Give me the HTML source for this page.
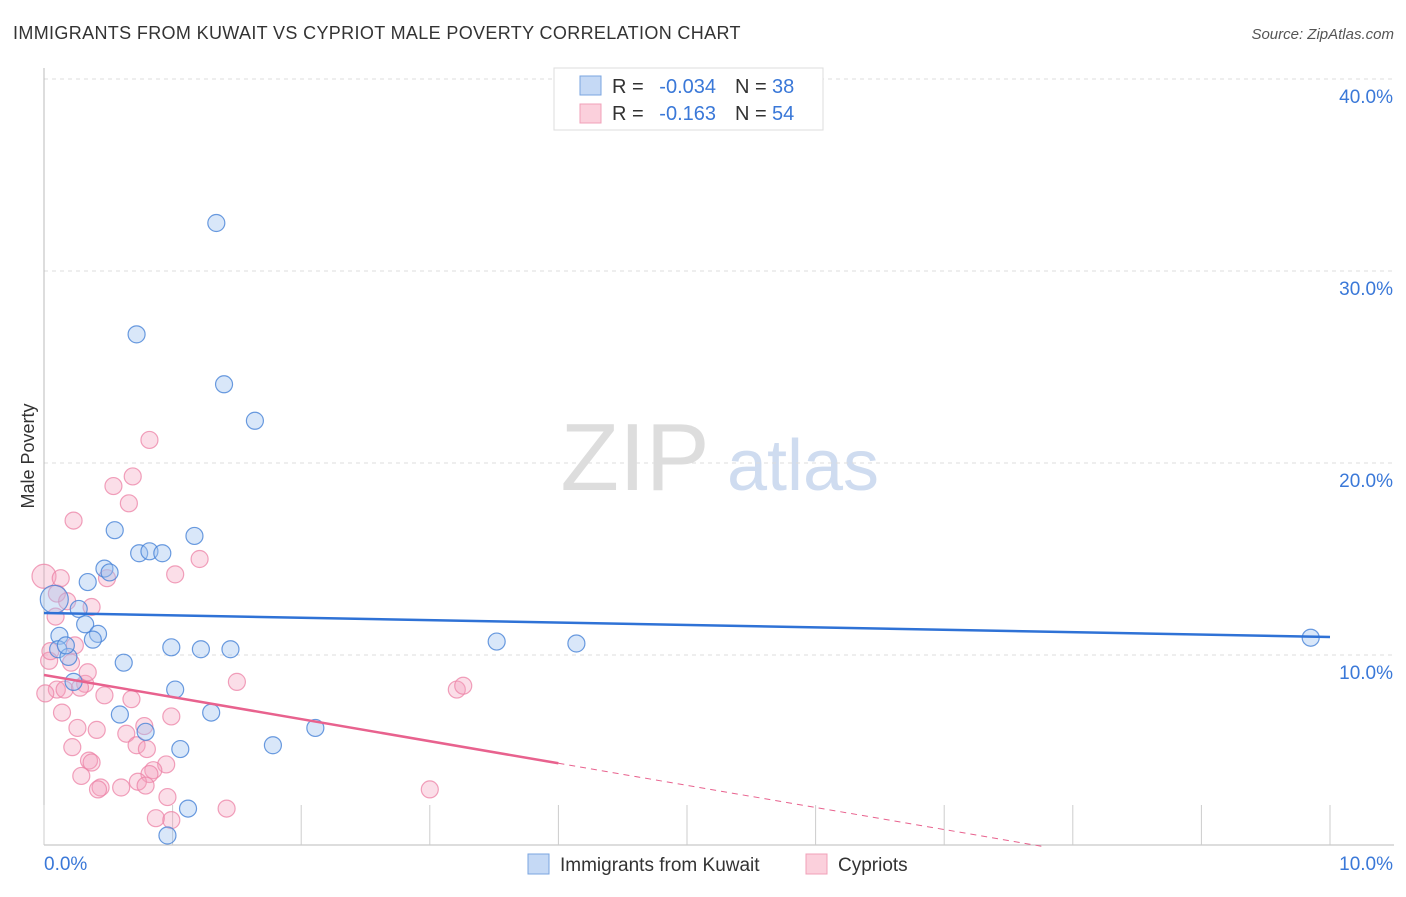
<!DOCTYPE html>
<html><head><meta charset="utf-8"><style>
body{margin:0;background:#fff;font-family:"Liberation Sans",sans-serif;}
svg text{font-family:"Liberation Sans",sans-serif;}
</style></head><body>
<svg id="chart" width="1406" height="892" xmlns="http://www.w3.org/2000/svg">
<text x="13" y="39" font-size="18" fill="#333" letter-spacing="0.35">IMMIGRANTS FROM KUWAIT VS CYPRIOT MALE POVERTY CORRELATION CHART</text>
<text x="1394" y="39" font-size="15" fill="#555" font-style="italic" text-anchor="end">Source: ZipAtlas.com</text>
<text x="34" y="456" font-size="18" fill="#333" transform="rotate(-90 34 456)" text-anchor="middle">Male Poverty</text>
<g><text x="635" y="490" font-size="96" fill="#ddd" font-family="Liberation Serif" text-anchor="middle">ZIP</text><text x="803" y="490" font-size="72" fill="#cfdcf0" text-anchor="middle">atlas</text></g>
<g id="grid"></g><g id="axes"></g><g id="pts"></g><g id="trends"></g>
<g>
<rect x="554" y="68" width="269" height="62" fill="#fff" stroke="#ddd"/>
<rect x="580" y="76" width="21" height="19" fill="#c5d9f5" stroke="#7aa5e0"/>
<rect x="580" y="104" width="21" height="19" fill="#fbd0dc" stroke="#f0a0b8"/>
<text x="612" y="93" font-size="20" fill="#333">R =</text>
<text x="716" y="93" font-size="20" fill="#3a78d8" text-anchor="end">-0.034</text>
<text x="735" y="93" font-size="20" fill="#333">N =</text>
<text x="772" y="93" font-size="20" fill="#3a78d8">38</text>
<text x="612" y="120" font-size="20" fill="#333">R =</text>
<text x="716" y="120" font-size="20" fill="#3a78d8" text-anchor="end">-0.163</text>
<text x="735" y="120" font-size="20" fill="#333">N =</text>
<text x="772" y="120" font-size="20" fill="#3a78d8">54</text>
</g>
<g>
<rect x="528" y="854" width="21" height="20" fill="#c5d9f5" stroke="#7aa5e0"/>
<text x="560" y="871" font-size="19" fill="#333">Immigrants from Kuwait</text>
<rect x="806" y="854" width="21" height="20" fill="#fbd0dc" stroke="#f0a0b8"/>
<text x="838" y="871" font-size="19" fill="#333">Cypriots</text>
</g>
</svg>
<script>
const yTicks=[10,20,30,40];
const xTickLabels=["0.0%","10.0%"];
const blueX=[1.34,0.72,1.40,1.64,0.55,1.17,0.74,0.82,0.92,0.47,0.51,0.34,0.08,0.27,0.32,0.42,0.12,0.38,0.11,0.19,0.62,0.99,1.22,1.45,3.52,4.14,9.85,0.23,1.02,0.59,1.30,0.79,1.06,1.78,2.11,1.12,0.96,0.17];
const blueY=[32.5,26.7,24.1,22.2,16.5,16.2,15.3,15.4,15.3,14.5,14.3,13.8,12.9,12.4,11.6,11.1,11.0,10.8,10.3,9.9,9.6,10.4,10.3,10.3,10.7,10.6,10.9,8.6,8.2,6.9,7.0,6.0,5.1,5.3,6.2,2.0,0.6,10.5];
const pinkX=[0.82,0.69,0.54,0.66,0.23,1.21,1.02,0.49,0.0,0.10,0.37,0.18,0.09,0.24,0.04,0.21,0.32,0.34,0.10,0.16,0.47,0.68,1.50,3.21,3.26,0.14,0.26,0.41,0.78,0.99,0.64,0.22,0.72,0.80,0.35,0.37,0.95,0.85,0.82,0.29,0.73,0.44,0.42,0.60,0.79,0.96,3.0,1.42,0.87,0.99,0.13,0.01,0.05,0.28];
const pinkY=[21.2,19.3,18.8,17.9,17.0,15.0,14.2,14.0,14.1,13.2,12.5,12.8,12.0,10.5,9.7,9.6,8.5,9.1,8.2,8.2,7.9,7.7,8.6,8.2,8.4,7.0,6.2,6.1,6.3,6.8,5.9,5.2,5.3,5.1,4.5,4.4,4.3,4.0,3.8,3.7,3.4,3.1,3.0,3.1,3.2,2.6,3.0,2.0,1.5,1.4,14.0,8.0,10.2,8.3];
const blueTrend=[12.19,10.94];
const pinkTrend=[8.96,-1.15];
const X=v=>44+v*128.6, Y=v=>847-v*19.2;
const NS="http://www.w3.org/2000/svg";
function mk(tag,attrs,parent){const e=document.createElementNS(NS,tag);for(const k in attrs)e.setAttribute(k,attrs[k]);parent.appendChild(e);return e;}
const grid=document.getElementById('grid'),axes=document.getElementById('axes'),pts=document.getElementById('pts'),tr=document.getElementById('trends');
yTicks.forEach(t=>{const l=mk('line',{x1:44,x2:1394,y1:Y(t),y2:Y(t),stroke:'#ddd','stroke-dasharray':'4,4'},grid);


const tx=mk('text',{x:1393,y:Y(t)+24,'font-size':19,fill:'#3a78d8','text-anchor':'end'},axes);tx.textContent=t.toFixed(1)+'%';

});
let a=mk('line',{x1:44,x2:44,y1:68,y2:845,stroke:'#bbb'},axes);


a=mk('line',{x1:44,x2:1394,y1:845,y2:845,stroke:'#bbb'},axes);


for(let i=0;i<=10;i++){const t=mk('line',{x1:X(i),x2:X(i),y1:805,y2:845,stroke:'#ccc'},axes);

}
[[0,44,'start'],[10,1393,'end']].forEach((d,i)=>{const t=mk('text',{x:d[1],y:870,'font-size':19,fill:'#3a78d8','text-anchor':d[2]},axes);t.textContent=xTickLabels[i];

});
pinkX.forEach((x,i)=>{const c=mk('circle',{cx:X(x),cy:Y(pinkY[i]),r:(x<0.005?12:8.5),fill:'rgba(244,160,188,0.35)',stroke:'rgba(236,130,165,0.75)','stroke-width':1.2},pts);

});
blueX.forEach((x,i)=>{const c=mk('circle',{cx:X(x),cy:Y(blueY[i]),r:(x<0.1?14:8.5),fill:'rgba(160,195,240,0.4)',stroke:'rgba(70,130,215,0.8)','stroke-width':1.2},pts);

});
let l=mk('line',{x1:X(0),y1:Y(blueTrend[0]),x2:X(10),y2:Y(blueTrend[1]),stroke:'#2f72d6','stroke-width':2.5},tr);


const pz=-pinkTrend[0]/pinkTrend[1];
l=mk('line',{x1:X(0),y1:Y(pinkTrend[0]),x2:X(4),y2:Y(pinkTrend[0]+4*pinkTrend[1]),stroke:'#e8628e','stroke-width':2.5},tr);


l=mk('line',{x1:X(4),y1:Y(pinkTrend[0]+4*pinkTrend[1]),x2:X(pz),y2:Y(0),stroke:'#e8628e','stroke-width':1,'stroke-dasharray':'6,5'},tr);


</script>
</body></html>
